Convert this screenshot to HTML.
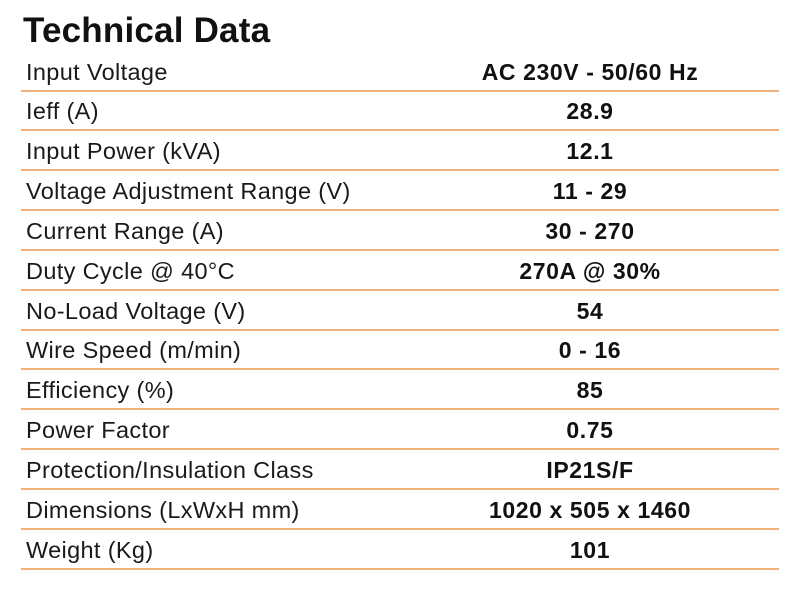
<!DOCTYPE html>
<html><head><meta charset="utf-8"><style>
html,body{margin:0;padding:0;background:#fff;width:808px;height:592px;overflow:hidden}
body{position:relative;font-family:"Liberation Sans",sans-serif;color:#111}
.title{position:absolute;left:23px;top:9px;font-size:35px;font-weight:bold;letter-spacing:0.2px;line-height:44px;margin:0}
.line{position:absolute;left:21px;width:758px;height:2px;background:#efb27c}
.lab{position:absolute;left:26px;font-size:23.5px;line-height:28px;letter-spacing:0.35px;color:#1a1a1a;white-space:nowrap}
.val{position:absolute;left:440px;width:300px;text-align:center;font-size:23px;font-weight:bold;line-height:28px;letter-spacing:0.6px;white-space:nowrap}
</style></head><body>
<h1 class="title">Technical Data</h1>
<div id="tbl"></div>
<script>
const labels=["Input Voltage","Ieff (A)","Input Power (kVA)","Voltage Adjustment Range (V)","Current Range (A)","Duty Cycle @ 40°C","No-Load Voltage (V)","Wire Speed (m/min)","Efficiency (%)","Power Factor","Protection/Insulation Class","Dimensions (LxWxH mm)","Weight (Kg)"];
const values=["AC 230V - 50/60 Hz","28.9","12.1","11 - 29","30 - 270","270A @ 30%","54","0 - 16","85","0.75","IP21S/F","1020 x 505 x 1460","101"];
const tbl=document.getElementById('tbl');
labels.forEach((l,i)=>{
  const ly=Math.round(89.5+39.85*i);
  const ln=document.createElement('div');ln.className='line';ln.style.top=ly+'px';
  
  
  const a=document.createElement('div');a.className='lab';a.textContent=l;a.style.top=(ly-32)+'px';
  
  
  const b=document.createElement('div');b.className='val';b.textContent=values[i];b.style.top=(ly-32)+'px';
  
  
  tbl.appendChild(ln);tbl.appendChild(a);tbl.appendChild(b);
});
</script>
</body></html>
